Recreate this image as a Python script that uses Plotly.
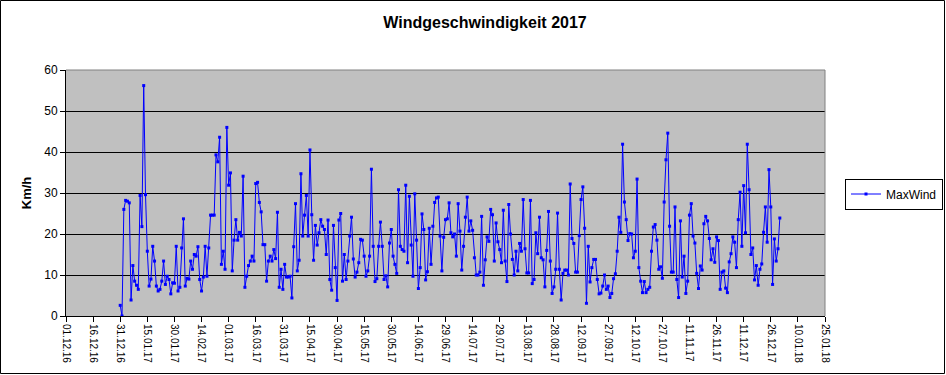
import pandas as pd
import plotly.graph_objects as go

start_date = "2016-12-31"
max_wind = [
    2.6, 0, 26, 28.2, 28, 27.6, 3.9, 12.3, 8.5, 7.5, 6.5, 29.4, 21.8, 56.2, 29.6, 15.8, 7.3, 9, 17, 13.4,
    7.3, 6.1, 6.5, 8.5, 13.4, 7.7, 9.7, 8.9, 5.4, 8.1, 8, 17, 6.1, 7, 16.6, 23.7, 7.3, 9.2, 9, 13.4,
    11.4, 15, 14.6, 16.9, 8.9, 6.1, 9.5, 17, 9.7, 16.6, 24.6, 24.6, 24.6, 39.3, 37.6, 43.6, 12.6, 15.8, 11.4, 46,
    31.9, 34.9, 11, 18.5, 23.5, 18.5, 20.4, 19.5, 34.1, 7, 9.7, 12.3, 13.4, 14.6, 13.4, 32.3, 32.6, 27.7, 25.4, 17.4,
    17.4, 8.5, 13.4, 14.6, 13.4, 16.2, 14, 25.3, 7, 11.4, 6.5, 12.6, 9.5, 9.5, 9.7, 4.4, 16.9, 27.4, 11, 13.6,
    34.7, 19.5, 24.6, 29.4, 19.5, 40.5, 24.7, 13.6, 22.1, 17.3, 20.3, 23.5, 21.9, 21.1, 15, 23.4, 8.9, 6.3, 22.1, 11.8,
    3.8, 23.4, 25, 8.5, 15, 8.9, 13.4, 19.5, 24.1, 13.9, 9.5, 10.7, 13, 18.7, 18.5, 14.6, 9.7, 11, 14.6, 35.8,
    17, 8.4, 9.1, 17, 22.9, 17, 8.9, 9.8, 7.1, 17.8, 21.1, 14.6, 12.6, 10.4, 30.8, 17, 16.2, 15.8, 31.9, 13,
    29.2, 17.3, 9.7, 29.8, 18.5, 6.7, 11.8, 24.9, 21.1, 8.8, 10.8, 21.4, 12.6, 21.9, 27.7, 28.8, 29, 19.5, 11, 19.2,
    23.5, 23.7, 27.6, 20.3, 19.3, 20, 14.6, 27.4, 20.7, 11.2, 17, 24.1, 29, 20.7, 23.2, 20.9, 14.2, 10, 10, 10.7,
    24.3, 7.5, 13.7, 19.3, 18.2, 26, 24.7, 13.4, 22.7, 18.1, 16.2, 13, 25.8, 13.4, 8.4, 27.2, 20, 13.8, 10, 15.8,
    11, 17.7, 15.8, 28.4, 16.4, 10.5, 10.5, 28.2, 7.9, 8.9, 20.3, 15.2, 24.1, 14.2, 13.7, 7.1, 16, 25.5, 13.4, 5.5,
    7.1, 11.4, 25.1, 11.4, 3.9, 10.4, 11.2, 11.2, 10, 32.2, 18.9, 17.7, 10.7, 10.7, 19.6, 28.4, 31.5, 21.4, 3.1, 17,
    8.3, 11.8, 13.8, 13.8, 8.9, 5.4, 5.6, 7.3, 10, 6.5, 7.3, 4.5, 5.5, 9.1, 10.3, 15.8, 24.1, 20.4, 41.9, 27.8,
    23.5, 18.4, 20.1, 20, 14.2, 15.8, 33.4, 11.8, 8.5, 5.7, 8.4, 5.7, 6.5, 7, 15.8, 21.7, 22.3, 18.5, 11.4, 12,
    9.2, 27.8, 38.1, 44.6, 21.9, 10.7, 10.7, 26.6, 8.9, 4.5, 23.2, 9.5, 14.6, 5.5, 8.5, 24.6, 27.4, 19.5, 17.8, 10.4,
    6.7, 12.2, 11.2, 22.5, 24.3, 23.2, 18.9, 13.7, 16.4, 13.1, 19.3, 18.4, 6.5, 10.7, 11, 6.8, 5.7, 13.2, 15.2, 19.3,
    18, 11.8, 23.5, 30.2, 17, 31.8, 20.3, 41.9, 30.8, 15, 16.6, 8.8, 12.3, 7.5, 11.4, 12.7, 20.4, 26.6, 18, 35.7,
    26.6, 7.7, 18.8, 13.4, 16.4, 23.9,
]
dates = pd.date_range(start_date, periods=len(max_wind), freq="D")

title_text = "Windgeschwindigkeit 2017"
y_title = "Km/h"
series_name = "MaxWind"
x_start, x_end = "2016-12-01", "2018-01-25"

W, H = 946, 375
L, R, T, B = 66, 121, 70, 59
pw, ph = W - L - R, H - T - B
FONT = "Arial, Liberation Sans, sans-serif"

fig = go.Figure()
fig.add_trace(go.Scatter(
    x=dates, y=max_wind, name=series_name, mode="lines+markers",
    line=dict(color="#0000FF", width=1),
    marker=dict(symbol="square", size=3, color="#0000FF"),
))

def px2x(p):
    return (p - L) / pw

def px2y(p):
    return (H - B - p) / ph

shapes = [
    dict(type="line", xref="paper", yref="paper", x0=0, x1=1, y0=1, y1=1,
         line=dict(color="#808080", width=1), layer="above"),
    dict(type="line", xref="paper", yref="paper", x0=1, x1=1, y0=0, y1=1,
         line=dict(color="#808080", width=1), layer="above"),
    dict(type="rect", xref="paper", yref="paper",
         x0=px2x(0.5), x1=px2x(W - 1.5), y0=px2y(H - 1.5), y1=px2y(0.5),
         line=dict(color="black", width=1), layer="above"),
]

fig.update_layout(
    width=W, height=H,
    margin=dict(l=L, r=R, t=T, b=B, autoexpand=False),
    paper_bgcolor="white",
    plot_bgcolor="#C0C0C0",
    font=dict(family=FONT, color="black", size=12),
    title=dict(text="<b>" + title_text + "</b>", x=px2x(485), xref="paper", xanchor="center",
               y=1 - 22 / H, yanchor="middle", font=dict(size=16, family=FONT)),
    showlegend=True,
    legend=dict(x=px2x(845), y=px2y(194), xanchor="left", yanchor="middle",
                bgcolor="white", bordercolor="black", borderwidth=1,
                font=dict(size=12, family=FONT), itemwidth=30,
                tracegroupgap=0),
    shapes=shapes,
)
fig.update_xaxes(
    type="date", range=[x_start, x_end], automargin=False,
    tick0=x_start, dtick=15 * 86400000, tickformat="%d.%m.%y",
    tickangle=90, tickfont=dict(size=10),
    ticks="outside", ticklen=5, tickcolor="black",
    showline=True, linecolor="black", linewidth=1,
    showgrid=False, zeroline=False,
)
fig.update_yaxes(
    range=[0, 60], dtick=10, tickfont=dict(size=12), automargin=False,
    ticks="outside", ticklen=5, tickcolor="black",
    showline=True, linecolor="black", linewidth=1,
    showgrid=True, gridcolor="black", gridwidth=1, zeroline=False,
    title=dict(text="<b>" + y_title + "</b>", font=dict(size=13), standoff=9),
)

fig.write_html("out.html", config={"displayModeBar": False},
               post_script="document.body.style.margin='0';")
